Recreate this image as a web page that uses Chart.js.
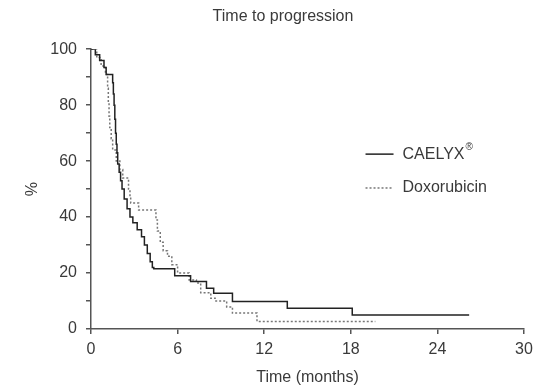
<!DOCTYPE html>
<html>
<head>
<meta charset="utf-8">
<script src="https://cdn.jsdelivr.net/npm/chart.js@4/dist/chart.umd.min.js"></script>
<style>
  html, body { margin: 0; padding: 0; background: #fff; }
  #wrap { width: 547px; height: 387px; }
</style>
</head>
<body>
<div id="wrap"><canvas id="km"></canvas></div>
<script>
// 数据：读图得到的阶梯点（月份, %）
const caelyxTime = [0, 0.3, 0.6, 0.9, 1.05, 1.5, 1.55, 1.6, 1.65, 1.7, 1.75, 1.8, 1.85, 1.95, 2.05, 2.15, 2.3, 2.5, 2.7, 2.9, 3.2, 3.5, 3.7, 3.9, 4.1, 4.25, 4.35, 5.8, 6.9, 8.0, 8.5, 9.8, 13.6, 18.1, 26.2];
const caelyxPct  = [100, 98, 96, 93.5, 91, 88, 84, 80, 75, 70, 66, 63, 59, 56, 53, 50, 46.5, 43, 40, 38, 35.5, 33, 30, 27, 24, 22, 21.5, 19, 17, 14.6, 12.8, 9.8, 7.4, 5, 5];

const doxoTime = [0, 0.4, 0.7, 1.0, 1.15, 1.2, 1.25, 1.3, 1.4, 1.5, 1.75, 2.0, 2.2, 2.6, 2.7, 2.75, 3.3, 4.5, 4.6, 4.8, 5.0, 5.3, 5.6, 6.0, 6.8, 7.3, 7.6, 8.3, 8.6, 9.4, 9.8, 11.5, 19.7];
const doxoPct  = [100, 97, 94, 91, 86, 81, 76, 72, 68, 64, 60, 57, 54, 50, 47, 45, 42.5, 39, 35, 31, 28, 26, 23, 20, 17.5, 16.4, 13, 11, 10, 7.9, 5.7, 2.7, 2.7];

const seriesNames = ['CAELYX', 'Doxorubicin'];
const xTicks = [0, 6, 12, 18, 24, 30];
const yTicks = [0, 20, 40, 60, 80, 100];

const textColor = '#3a3a3a';
const axisColor = '#555';

Chart.defaults.font.family = '"Liberation Sans", Arial, sans-serif';
Chart.defaults.font.size = 16;
Chart.defaults.color = textColor;

function toPoints(t, v) {
    return t.map((x, i) => ({ x: x, y: v[i] }));
}

// 图例画在图内右侧
const legendPlugin = {
    id: 'innerLegend',
    afterDraw(chart) {
        const ctx = chart.ctx;
        const a = chart.chartArea;
        const x0 = a.left + (a.right - a.left) * 0.634;
        const rows = [
            { y: a.top + (a.bottom - a.top) * 0.375, dash: [], color: '#222', label: seriesNames[0], sup: '®' },
            { y: a.top + (a.bottom - a.top) * 0.496, dash: [2, 2], color: '#777', label: seriesNames[1], sup: '' }
        ];
        ctx.save();
        rows.forEach(r => {
            ctx.beginPath();
            ctx.setLineDash(r.dash);
            ctx.strokeStyle = r.color;
            ctx.lineWidth = 1.5;
            ctx.moveTo(x0, r.y);
            ctx.lineTo(x0 + 28, r.y);
            ctx.stroke();
            ctx.setLineDash([]);
            ctx.fillStyle = textColor;
            ctx.font = '16px "Liberation Sans", Arial, sans-serif';
            ctx.textBaseline = 'middle';
            ctx.textAlign = 'left';
            ctx.fillText(r.label, x0 + 37, r.y);
            if (r.sup) {
                const w = ctx.measureText(r.label).width;
                ctx.font = '10px "Liberation Sans", Arial, sans-serif';
                ctx.fillText(r.sup, x0 + 37 + w + 1, r.y - 7);
            }
        });
        ctx.restore();
    }
};

new Chart(document.getElementById('km'), {
    type: 'line',
    data: {
        datasets: [
            {
                label: seriesNames[0],
                data: toPoints(caelyxTime, caelyxPct),
                stepped: true,
                borderColor: '#222',
                borderWidth: 1.5,
                pointRadius: 0,
                fill: false
            },
            {
                label: seriesNames[1],
                data: toPoints(doxoTime, doxoPct),
                stepped: true,
                borderColor: '#777',
                borderWidth: 1.5,
                borderDash: [2, 2],
                pointRadius: 0,
                fill: false
            }
        ]
    },
    options: {
        responsive: true,
        maintainAspectRatio: false,
        animation: false,
        layout: { padding: { left: 42, right: 23, top: 0, bottom: 0 } },
        plugins: {
            legend: { display: false },
            tooltip: { enabled: false },
            title: {
                display: true,
                text: 'Time to progression',
                color: textColor,
                font: { size: 16, weight: 'normal' },
                padding: { top: 7, bottom: 23 }
            }
        },
        scales: {
            x: {
                type: 'linear',
                min: 0,
                max: 30,
                afterBuildTicks: s => { s.ticks = xTicks.map(v => ({ value: v })); },
                afterFit: s => { s.height = 58; },
                border: { display: true, color: axisColor, width: 1.5 },
                grid: { drawOnChartArea: false, drawTicks: true, tickLength: 5, color: axisColor, lineWidth: 1.5 },
                ticks: { padding: 6, color: textColor, maxRotation: 0 },
                title: { display: true, text: 'Time (months)', color: textColor, padding: { top: 0, bottom: 0 } }
            },
            y: {
                min: 0,
                max: 100,
                afterBuildTicks: s => {
                    const t = [];
                    for (let v = 0; v <= 100; v += 10) t.push({ value: v });
                    s.ticks = t;
                },
                afterFit: s => { s.width = 49; },
                border: { display: true, color: axisColor, width: 1.5 },
                grid: { drawOnChartArea: false, drawTicks: true, tickLength: 5, color: axisColor, lineWidth: 1.5 },
                ticks: {
                    padding: 9,
                    color: textColor,
                    callback: v => yTicks.includes(v) ? v : ''
                },
                title: { display: true, text: '%', color: textColor, padding: { top: -19 } }
            }
        }
    },
    plugins: [legendPlugin]
});
</script>
</body>
</html>
